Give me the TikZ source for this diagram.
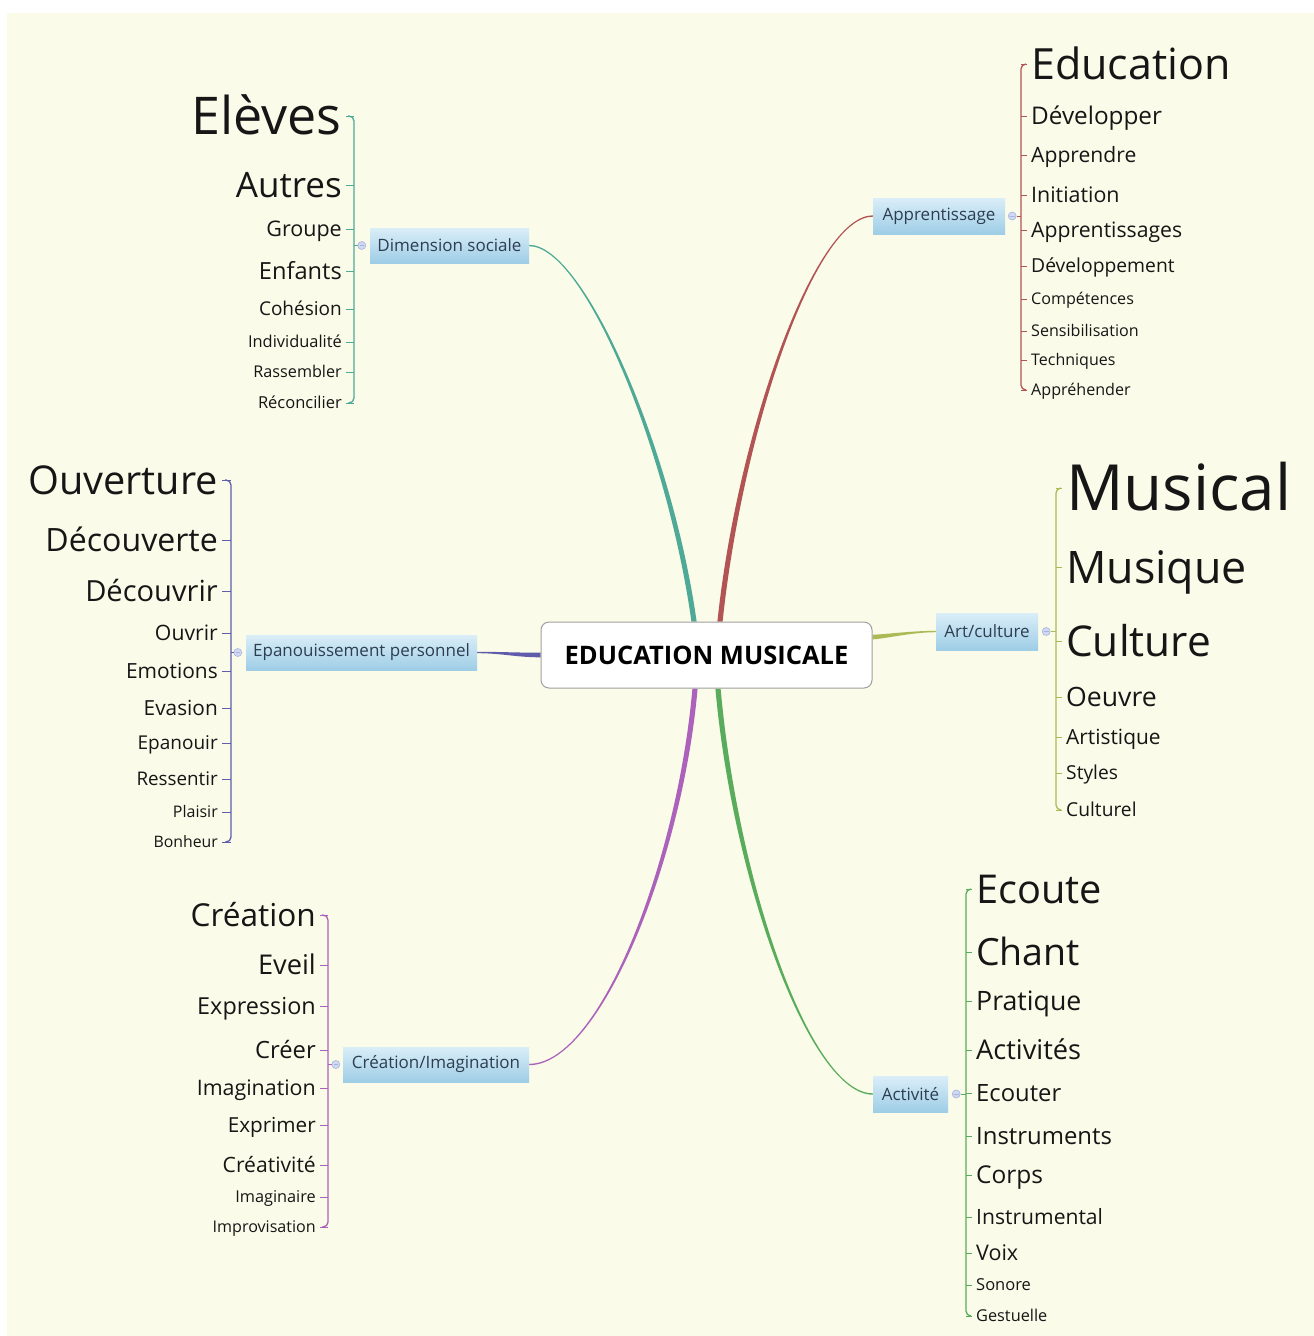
\documentclass[tikz,border=0pt]{standalone}
\usepackage{fontspec}
\setmainfont{Open Sans}
\usetikzlibrary{calc}
\pgfdeclarelayer{bg}
\pgfsetlayers{bg,main}
\definecolor{cream}{RGB}{250,251,232}
\definecolor{leafc}{RGB}{22,22,22}
\definecolor{boxtext}{RGB}{45,62,80}
\definecolor{boxtop}{RGB}{218,238,248}
\definecolor{boxbot}{RGB}{158,205,230}
\definecolor{knobf}{RGB}{208,216,242}
\definecolor{knobd}{RGB}{165,180,222}
\definecolor{clrds}{RGB}{78,170,150}
\definecolor{clrap}{RGB}{178,84,84}
\definecolor{clrep}{RGB}{96,92,172}
\definecolor{clrac}{RGB}{172,186,86}
\definecolor{clrci}{RGB}{172,98,186}
\definecolor{clract}{RGB}{88,172,92}
% tapered connector: color, A, c1, c2, E, start offset, end offset
\newcommand\taper[7]{%
  \fill[#1] ($(#2)+#6$) .. controls ($(#3)+#6$) and ($(#4)+#7$) .. ($(#5)+#7$)
    -- ($(#5)-#7$) .. controls ($(#4)-#7$) and ($(#3)-#6$) .. ($(#2)-#6$) -- cycle;}
\newcommand\leftcluster[5]{%
  \foreach \t/\y/\s [count=\i] in {#5} {
    \node[leaf, anchor=east, font=\fontsize{\s}{\s}\selectfont,
      text height={0.92*\s*1pt}, text depth={0.2*\s*1pt}] (#1\i) at (#2,\y) {\t};
    \draw[#4, tickline] ($(#1\i.east)+(4,0)$) -- (#3,\y);
  }}
\newcommand\rightcluster[5]{%
  \foreach \t/\y/\s [count=\i] in {#5} {
    \node[leaf, anchor=west, font=\fontsize{\s}{\s}\selectfont,
      text height={0.92*\s*1pt}, text depth={0.2*\s*1pt}] (#1\i) at (#2,\y) {\t};
    \draw[#4, tickline] ($(#1\i.west)+(-4,0)$) -- (#3,\y);
  }}
\begin{document}
\begin{tikzpicture}[x=1pt,y=-1pt,
  leaf/.style={inner sep=0pt, text=leafc},
  tickline/.style={line width=0.8pt},
  brk/.style={line width=1.3pt, rounded corners=5pt},
  branch/.style={minimum height=35pt, inner sep=0pt, top color=boxtop, bottom color=boxbot,
     text=boxtext, font=\fontsize{17}{17}\selectfont},
  hub/.style={draw={rgb,255:red,160;green,160;blue,160}, line width=1pt, fill=white,
     rounded corners=8pt, minimum width=331pt, minimum height=66pt, inner sep=0pt,
     font=\bfseries\fontsize{25.5}{25.5}\selectfont, text=black},
  knob/.style={circle, minimum size=8pt, inner sep=0pt, fill=knobf, draw=knobd, line width=0.6pt},
]
\useasboundingbox (0,0) rectangle (1314,1336);
\begin{pgfonlayer}{bg}
  \fill[white] (0,0) rectangle (1314,1336);
  \fill[cream] (7,13) rectangle (1314,1336);
\end{pgfonlayer}

% hub
\node[hub] (c) at (706.5,655) {EDUCATION MUSICALE};

% branch boxes
\node[branch, minimum width=159pt] (ds) at (449.5,245.5) {Dimension sociale};
\node[branch, minimum width=132pt, minimum height=36pt] (ap) at (939,216) {Apprentissage};
\node[branch, minimum width=231pt] (ep) at (361.5,652.5) {Epanouissement personnel};
\node[branch, minimum width=102pt, minimum height=37pt] (ac) at (987,631.5) {Art/culture};
\node[branch, minimum width=186pt] (ci) at (436,1064.5) {Création/Imagination};
\node[branch, minimum width=75pt, minimum height=36pt] (act) at (910.5,1094) {Activité};

% connectors
\coordinate (eds) at ($(c.north)+(-12.5,0)$);
\coordinate (eap) at ($(c.north)+(13.5,0)$);
\coordinate (eci) at ($(c.south)+(-11.5,0)$);
\coordinate (eact) at ($(c.south)+(11.5,0)$);
\coordinate (eep) at (c.west);
\coordinate (eac) at ($(c.east)+(0,-18)$);
\coordinate (ds1c) at ($(ds.east)+(55,0)$);
\coordinate (ds2c) at ($(eds)+(-24,-172)$);
\coordinate (ap1c) at ($(ap.west)+(-58,0)$);
\coordinate (ap2c) at ($(eap)+(20,-190)$);
\coordinate (ci1c) at ($(ci.east)+(71,0)$);
\coordinate (ci2c) at ($(eci)+(-15,172)$);
\coordinate (act1c) at ($(act.west)+(-63,0)$);
\coordinate (act2c) at ($(eact)+(17,192)$);
\coordinate (ep1c) at ($(ep.east)+(25,0)$);
\coordinate (ep2c) at ($(eep)+(-25,0)$);
\coordinate (ac1c) at ($(ac.west)+(-25,0)$);
\coordinate (ac2c) at ($(eac)+(10,0)$);
\begin{pgfonlayer}{bg}
  \taper{clrds}{ds.east}{ds1c}{ds2c}{eds}{(0,-0.7)}{(2.6,0)}
  \taper{clrap}{ap.west}{ap1c}{ap2c}{eap}{(0,-0.7)}{(-2.6,0)}
  \taper{clrci}{ci.east}{ci1c}{ci2c}{eci}{(0,0.7)}{(2.6,0)}
  \taper{clract}{act.west}{act1c}{act2c}{eact}{(0,0.7)}{(-2.6,0)}
  \taper{clrep}{ep.east}{ep1c}{ep2c}{eep}{(0,0.7)}{(0,2.3)}
  \taper{clrac}{ac.west}{ac1c}{ac2c}{eac}{(0,0.7)}{(0,2.3)}
\end{pgfonlayer}

% knobs
\node[knob] (dsk) at ($(ds.west)+(-8,0)$) {};
\node[knob] (apk) at ($(ap.east)+(7,0)$) {};
\node[knob] (epk) at ($(ep.west)+(-8,0)$) {};
\node[knob] (ack) at ($(ac.east)+(8,0)$) {};
\node[knob] (cik) at ($(ci.west)+(-7,0)$) {};
\node[knob] (actk) at ($(act.east)+(8,0)$) {};
\foreach \k in {dsk,apk,epk,ack,cik,actk}{
  \draw[knobd, line width=0.7pt] ($(\k.center)+(-2.3,0)$) -- ($(\k.center)+(2.3,0)$);
}

% Dimension sociale
\leftcluster{ds}{342}{354}{clrds}{Elèves/116/52, Autres/185/35, Groupe/229/21.5, Enfants/271/23.6,
  Cohésion/309/19, Individualité/342/16.4, Rassembler/372/16.2, Réconcilier/403/16.5}
\draw[clrds, brk] ($(ds1.east)+(6,0)$) -- (354,116) -- (354,403) -- ($(ds8.east)+(6,0)$);
\draw[clrds, tickline] (dsk.west) -- (354,245.5);

% Apprentissage
\rightcluster{ap}{1031}{1021}{clrap}{Education/64/43, Développer/116/24.3, Apprendre/155/21.1,
  Initiation/195/21.4, Apprentissages/230/21.2, Développement/266/19.3, Compétences/299/16.1,
  Sensibilisation/331/16.1, Techniques/360/16, Appréhender/390/16.1}
\draw[clrap, brk] ($(ap1.west)+(-5,0)$) -- (1021,64) -- (1021,390) -- ($(ap10.west)+(-5,0)$);
\draw[clrap, tickline] (apk.east) -- (1021,216);

% Epanouissement personnel
\leftcluster{ep}{218}{231}{clrep}{Ouverture/480/39.7, Découverte/540/32.1, Découvrir/591/29.1,
  Ouvrir/633/21.2, Emotions/671/20.9, Evasion/708/20.8, Epanouir/743/19, Ressentir/779/18.8,
  Plaisir/812/16, Bonheur/842/15.8}
\draw[clrep, brk] ($(ep1.east)+(7,0)$) -- (231,480) -- (231,842) -- ($(ep10.east)+(7,0)$);
\draw[clrep, tickline] (epk.west) -- (231,652.5);

% Art/culture
\rightcluster{ac}{1066}{1056}{clrac}{Musical/488/63.7, Musique/567/44.8, Culture/641/42.4,
  Oeuvre/697/26.6, Artistique/737/20.9, Styles/773/19.2, Culturel/810/19.2}
\draw[clrac, brk] ($(ac1.west)+(-5,0)$) -- (1056,488) -- (1056,810) -- ($(ac7.west)+(-5,0)$);
\draw[clrac, tickline] (ack.east) -- (1056,631.5);

% Creation/Imagination
\leftcluster{ci}{316}{328}{clrci}{Création/915/31.6, Eveil/965/27.2, Expression/1006/23.4,
  Créer/1050/23.8, Imagination/1088/21.4, Exprimer/1125/20.7, Créativité/1165/21.1,
  Imaginaire/1197/16.3, Improvisation/1227/16.1}
\draw[clrci, brk] ($(ci1.east)+(6,0)$) -- (328,915) -- (328,1227) -- ($(ci9.east)+(6,0)$);
\draw[clrci, tickline] (cik.west) -- (328,1064.5);

% Activite
\rightcluster{act}{976}{966}{clract}{Ecoute/889/39.7, Chant/952/37.5, Pratique/1001/26.7,
  Activités/1050/27.2, Ecouter/1093/23.8, Instruments/1136/23.9, Corps/1175/24.5,
  Instrumental/1217/21.1, Voix/1253/21.5, Sonore/1285/16.5, Gestuelle/1316/16.3}
\draw[clract, brk] ($(act1.west)+(-5,0)$) -- (966,889) -- (966,1316) -- ($(act11.west)+(-5,0)$);
\draw[clract, tickline] (actk.east) -- (966,1094);
\end{tikzpicture}
\end{document}
